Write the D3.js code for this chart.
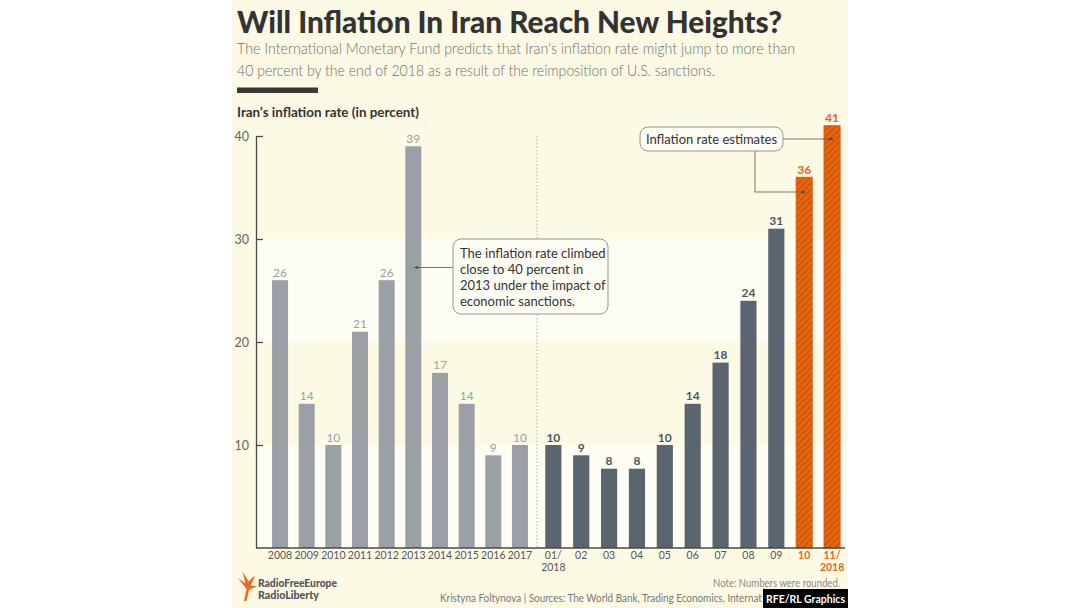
<!DOCTYPE html>
<html><head><meta charset="utf-8">
<script src="https://cdn.jsdelivr.net/npm/d3@7"></script>
<style>
body{margin:0;background:#fff}
svg{display:block}
text{font-family:Lato,"Noto Sans",sans-serif}
</style>
</head><body>
<svg id="chart" width="1080" height="608"></svg>
<script>
// ---- data ----
const yearCats = ["2008","2009","2010","2011","2012","2013","2014","2015","2016","2017"];
const yearValues = [26,14,10,21,26,39,17,14,9,10];
const monthCats = ["01/\n2018","02","03","04","05","06","07","08","09","10","11/\n2018"];
const monthValues = [10,9,7.7,7.7,10,14,18,24,31,36,41];
const estimateCats = ["10","11/\n2018"];
const yTicks = [10,20,30,40];
const lightBands = [[0,10],[20,30]];
const titleText = "Will Inflation In Iran Reach New Heights?";
const subtitleLines = ["The International Monetary Fund predicts that Iran's inflation rate might jump to more than",
                       "40 percent by the end of 2018 as a result of the reimposition of U.S. sanctions."];
const axisTitle = "Iran's inflation rate (in percent)";
const note2013 = ["The inflation rate climbed","close to 40 percent in","2013 under the impact of","economic sanctions."];
const noteEstimates = "Inflation rate estimates";
const noteRounded = "Note: Numbers were rounded.";
const sourceText = "Kristyna Foltynova | Sources: The World Bank, Trading Economics, International Monetary Fund";
const creditText = "RFE/RL Graphics";
const logoLines = ["RadioFreeEurope","RadioLiberty"];

// ---- styles ----
const C = {cream:"#fcfae4", light:"#fefdf4", gray:"#9aa0a6", dark:"#5a6570", orange:"#e8660f",
           orangeDark:"#c24f08", ink:"#333", axis:"#4a4a4a"};

const svg = d3.select("#chart");
const defs = svg.append("defs");
const pat = defs.append("pattern").attr("id","hatch").attr("patternUnits","userSpaceOnUse")
  .attr("width",4.5).attr("height",4.5).attr("patternTransform","rotate(45)");
pat.append("rect").attr("width",4.5).attr("height",4.5).attr("fill",C.orange);
pat.append("line").attr("x1",1).attr("x2",1).attr("y1",0).attr("y2",4.5)
  .attr("stroke",C.orangeDark).attr("stroke-width",1.2);
const mk = defs.append("marker").attr("id","arrow").attr("viewBox","0 0 10 10")
  .attr("refX",9).attr("refY",5).attr("markerWidth",5).attr("markerHeight",5).attr("orient","auto");
mk.append("path").attr("d","M0,1 L10,5 L0,9 Z").attr("fill","#444");
defs.append("clipPath").attr("id","srcclip").append("rect")
  .attr("x",400).attr("y",585).attr("width",362).attr("height",23);

// card
svg.append("rect").attr("x",232).attr("y",0).attr("width",616).attr("height",608).attr("fill",C.cream);

// scales
const y = d3.scaleLinear().domain([0,40]).range([548,136]);
const xYears = d3.scaleBand().domain(yearCats).range([266.7,533.3]).paddingInner(0.4).paddingOuter(0.2);
const xMonths = d3.scaleBand().domain(monthCats).range([539.4,846]).paddingInner(0.42).paddingOuter(0.21);
const axisX0 = 256, plotRight = 848;

// bands
svg.append("g").selectAll("rect").data(lightBands).join("rect")
  .attr("x",axisX0).attr("width",plotRight-axisX0)
  .attr("y",d=>y(d[1])).attr("height",d=>y(d[0])-y(d[1])).attr("fill",C.light);

// separator
svg.append("line").attr("x1",537).attr("x2",537).attr("y1",y(40)).attr("y2",y(0))
  .attr("stroke","#9a9a9a").attr("stroke-width",0.8).attr("stroke-dasharray","1.5,2");

// bars
const yearData = yearCats.map((c,i)=>({c,v:yearValues[i]}));
const monthData = monthCats.map((c,i)=>({c,v:monthValues[i],est:estimateCats.includes(c)}));

svg.append("g").selectAll("rect").data(yearData).join("rect")
  .attr("x",d=>xYears(d.c)).attr("width",xYears.bandwidth())
  .attr("y",d=>y(d.v)).attr("height",d=>y(0)-y(d.v)).attr("fill",C.gray);
svg.append("g").selectAll("rect").data(monthData).join("rect")
  .attr("x",d=>xMonths(d.c)).attr("width",xMonths.bandwidth())
  .attr("y",d=>y(d.v)).attr("height",d=>y(0)-y(d.v))
  .attr("fill",d=>d.est?"url(#hatch)":C.dark)
  .attr("stroke",d=>d.est?"#d85a0a":"none").attr("stroke-width",0.8);

// value labels
svg.append("g").selectAll("text").data(yearData).join("text")
  .attr("x",d=>xYears(d.c)+xYears.bandwidth()/2).attr("y",d=>y(d.v)-3.5)
  .attr("text-anchor","middle").attr("font-size",12).attr("fill","#9a9fa4")
  .text(d=>Math.round(d.v));
svg.append("g").selectAll("text").data(monthData).join("text")
  .attr("x",d=>xMonths(d.c)+xMonths.bandwidth()/2).attr("y",d=>y(d.v)-3.5)
  .attr("text-anchor","middle").attr("font-size",12).attr("font-weight",700)
  .attr("fill",d=>d.est?"#e2661a":"#4d5660")
  .text(d=>Math.round(d.v));

// y axis
const yAxis = svg.append("g").attr("transform",`translate(${axisX0},0)`)
  .call(d3.axisLeft(y).tickValues(yTicks).tickSize(-7).tickSizeOuter(0).tickPadding(7));
yAxis.select(".domain").attr("stroke",C.axis).attr("stroke-width",1.3);
yAxis.selectAll(".tick line").attr("stroke",C.axis).attr("stroke-width",1.3);
yAxis.selectAll(".tick text").attr("fill","#666").attr("font-size",12.5).attr("font-family","Lato,sans-serif");

// x axis baseline
svg.append("line").attr("x1",axisX0).attr("x2",845).attr("y1",y(0)).attr("y2",y(0))
  .attr("stroke",C.axis).attr("stroke-width",1.3);

function catLabels(scale, cats, isEst){
  const g = svg.append("g");
  const t = g.selectAll("text").data(cats).join("text")
    .attr("x",d=>scale(d)+scale.bandwidth()/2).attr("y",558.5)
    .attr("text-anchor","middle").attr("font-size",10.5)
    .attr("fill",d=>isEst(d)?"#e2661a":"#555").attr("font-weight",d=>isEst(d)?700:400);
  t.each(function(d){
    const parts = d.split("\n");
    const el = d3.select(this);
    parts.forEach((p,i)=>el.append("tspan").attr("x",scale(d)+scale.bandwidth()/2)
      .attr("dy",i===0?0:12.5).text(p));
  });
}
catLabels(xYears, yearCats, ()=>false);
catLabels(xMonths, monthCats, d=>estimateCats.includes(d));

// headings
function fitted(sel, w){ sel.attr("textLength",w).attr("lengthAdjust","spacingAndGlyphs"); return sel; }
fitted(svg.append("text").attr("x",237).attr("y",33).attr("font-size",30).attr("font-weight",900)
  .attr("fill","#333").text(titleText), 545);
fitted(svg.append("text").attr("x",237).attr("y",54).attr("font-size",15.5).attr("font-weight",300)
  .attr("fill","#6f6f6f").text(subtitleLines[0]), 558);
fitted(svg.append("text").attr("x",237).attr("y",75.5).attr("font-size",15.5).attr("font-weight",300)
  .attr("fill","#6f6f6f").text(subtitleLines[1]), 478);
svg.append("rect").attr("x",237).attr("y",87.5).attr("width",81).attr("height",5.5).attr("fill","#3a3a3a");
fitted(svg.append("text").attr("x",237).attr("y",117).attr("font-size",13.5).attr("font-weight",700)
  .attr("fill","#333").text(axisTitle), 182);

// annotation 1 (2013)
const x2013 = xYears("2013")+xYears.bandwidth()/2;
svg.append("line").attr("x1",453).attr("x2",x2013+1).attr("y1",267.5).attr("y2",267.5)
  .attr("stroke","#555").attr("stroke-width",0.8).attr("marker-end","url(#arrow)");
svg.append("rect").attr("x",453).attr("y",239).attr("width",155).attr("height",75).attr("rx",8)
  .attr("fill",C.light).attr("stroke","#8a8a8a").attr("stroke-width",0.9);
svg.append("g").selectAll("text").data(note2013).join("text")
  .attr("x",460).attr("y",(d,i)=>257.5+i*16).attr("font-size",13).attr("fill","#333").text(d=>d);

// annotation 2 (estimates)
const x10 = xMonths("10")+xMonths.bandwidth()/2;
const x11 = xMonths("11/\n2018")+xMonths.bandwidth()/2;
svg.append("line").attr("x1",783).attr("x2",x11+1).attr("y1",139).attr("y2",139)
  .attr("stroke","#555").attr("stroke-width",0.8).attr("marker-end","url(#arrow)");
svg.append("path").attr("d",`M755,151 V192 H${x10+1}`).attr("fill","none")
  .attr("stroke","#555").attr("stroke-width",0.8).attr("marker-end","url(#arrow)");
svg.append("rect").attr("x",640).attr("y",127).attr("width",143).attr("height",24).attr("rx",8)
  .attr("fill",C.light).attr("stroke","#8a8a8a").attr("stroke-width",0.9);
svg.append("text").attr("x",711.5).attr("y",143.5).attr("text-anchor","middle")
  .attr("font-size",13).attr("fill","#333").text(noteEstimates);

// footer
svg.append("path").attr("d","M244,601 L246.5,589 L238,578 L245.5,583.5 L242.5,571.5 L248.5,581.5 L255,575 L251,585.5 L257,586 L249,590 L246.5,601 Z")
  .attr("fill","#ec6a1e");
svg.append("g").selectAll("text").data(logoLines).join("text")
  .attr("x",258).attr("y",(d,i)=>587+i*11.5).attr("font-size",11).attr("font-weight",900)
  .attr("fill","#555").attr("textLength",(d,i)=>i===0?79:61).attr("lengthAdjust","spacingAndGlyphs")
  .text(d=>d);
fitted(svg.append("text").attr("x",840).attr("y",587).attr("text-anchor","end").attr("font-size",11)
  .attr("fill","#888").text(noteRounded), 127);
svg.append("g").attr("clip-path","url(#srcclip)")
  .append("text").attr("x",440).attr("y",601.5).attr("font-size",11).attr("fill","#777")
  .attr("textLength",412).attr("lengthAdjust","spacingAndGlyphs").text(sourceText);
svg.append("rect").attr("x",763).attr("y",589).attr("width",85).attr("height",19).attr("fill","#000");
svg.append("text").attr("x",805.5).attr("y",602.5).attr("text-anchor","middle").attr("font-size",10.5)
  .attr("font-weight",700).attr("font-family","'Liberation Sans',Arial,sans-serif")
  .attr("fill","#fff").text(creditText);
</script>
</body></html>
